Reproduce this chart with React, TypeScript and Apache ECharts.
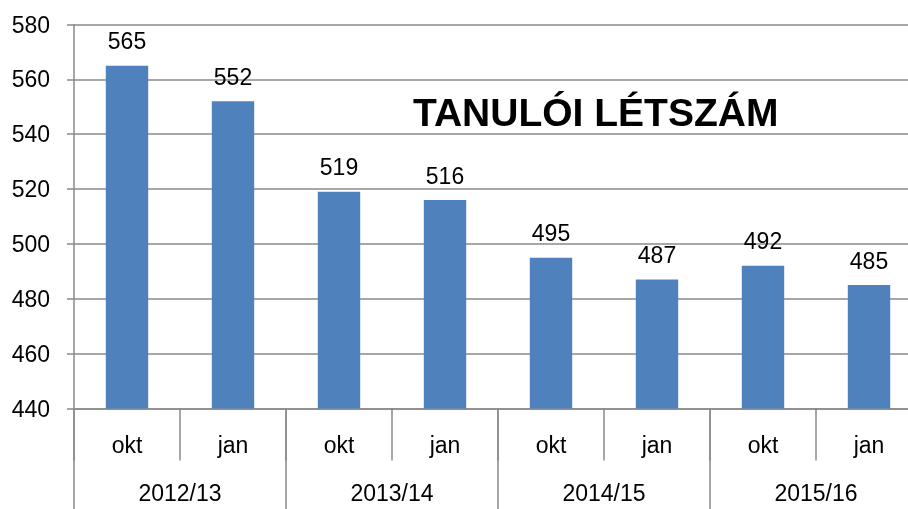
import React, { useEffect, useRef } from "react";
import * as echarts from "echarts";

const months = ["okt", "jan", "okt", "jan", "okt", "jan", "okt", "jan"];
const years = ["2012/13", "2013/14", "2014/15", "2015/16"];
const values = [565, 552, 519, 516, 495, 487, 492, 485];
const title = "TANULÓI LÉTSZÁM";

const FONT = "'Liberation Sans', Arial, sans-serif";
const GRAY = "#8a8a8a";

export default function App() {
  const ref = useRef<HTMLDivElement>(null);
  useEffect(() => {
    const chart = echarts.init(ref.current!, null, { renderer: "svg" });
    chart.setOption({
      animation: false,
      textStyle: { fontFamily: FONT },
      grid: {
        left: 74,
        width: 848,
        top: 24.5,
        bottom: 100.5,
        containLabel: false,
        outerBoundsMode: "none",
      },
      xAxis: [
        {
          type: "category",
          data: months,
          position: "bottom",
          axisLine: { show: true, lineStyle: { color: GRAY, width: 1.5 } },
          axisTick: { show: true, length: 52, interval: 0, lineStyle: { color: GRAY, width: 1.5 } },
          axisLabel: { interval: 0, margin: 25, fontSize: 23, color: "#000", fontFamily: FONT },
        },
        {
          type: "category",
          data: years,
          position: "bottom",
          axisLine: { show: false },
          axisTick: { show: true, length: 110, interval: 0, lineStyle: { color: GRAY, width: 1.5 } },
          axisLabel: { interval: 0, margin: 73, fontSize: 23, color: "#000", fontFamily: FONT },
        },
      ],
      yAxis: {
        type: "value",
        min: 440,
        max: 580,
        interval: 20,
        axisLine: { show: true, lineStyle: { color: GRAY, width: 1.5 } },
        axisTick: { show: true, length: 7, lineStyle: { color: GRAY, width: 1.5 } },
        splitLine: { show: true, lineStyle: { color: GRAY, width: 1.5 } },
        axisLabel: { margin: 24, fontSize: 23, color: "#000", fontFamily: FONT },
      },
      graphic: [
        {
          type: "text",
          x: 413,
          y: 112,
          style: {
            text: title,
            fontSize: 39,
            fontWeight: "bold",
            fontFamily: FONT,
            fill: "#000",
            verticalAlign: "middle",
          },
        },
      ],
      series: [
        {
          type: "bar",
          xAxisIndex: 0,
          data: values,
          barWidth: "40%",
          itemStyle: { color: "#4F81BD" },
          label: {
            show: true,
            position: "top",
            distance: 13,
            fontSize: 23,
            color: "#000",
            fontFamily: FONT,
          },
        },
      ],
    });
    return () => chart.dispose();
  }, []);
  return <div ref={ref} style={{ width: 908, height: 509, position: "fixed", left: 0, top: 0 }} />;
}
